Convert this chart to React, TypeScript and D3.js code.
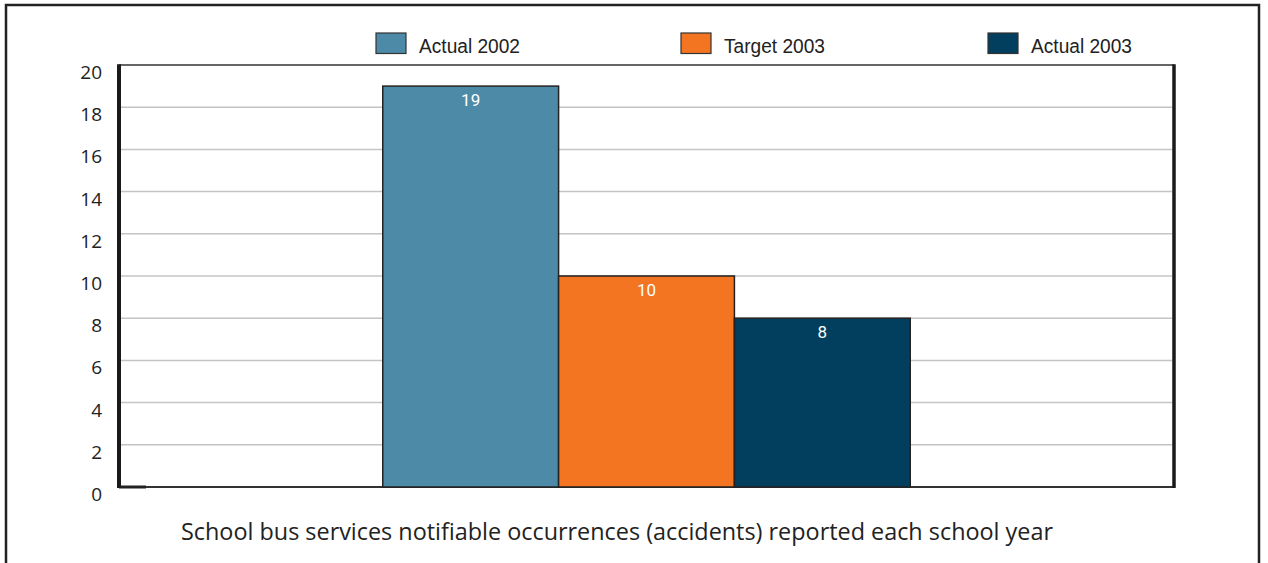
import React from "react";
import * as d3 from "d3";

const categories = ["School bus services"];
const seriesNames = ["Actual 2002", "Target 2003", "Actual 2003"];
const seriesValues = [19, 10, 8];
const seriesColors = ["#4d8aa8", "#f47521", "#023e5e"];
const yTicks = [0, 2, 4, 6, 8, 10, 12, 14, 16, 18, 20];
const title = "School bus services notifiable occurrences (accidents) reported each school year";

const W = 1268;
const H = 563;
const plot = { left: 119, right: 1174, top: 65, bottom: 487 };

export default function App() {
  const y = d3.scaleLinear().domain([0, 20]).range([plot.bottom, plot.top]);
  const x0 = d3
    .scaleBand<string>()
    .domain(categories)
    .range([plot.left, plot.right])
    .paddingInner(0)
    .paddingOuter(0.5);
  const x1 = d3
    .scaleBand<string>()
    .domain(seriesNames)
    .range([0, x0.bandwidth()])
    .padding(0);

  const legendX = [376, 681, 988];

  return (
    <svg
      width={W}
      height={H}
      style={{ position: "absolute", left: 0, top: 0, background: "#fff" }}
    >
      {/* outer frame, open at the bottom */}
      <path
        d={`M6,${H} L6,5 L1259,5 L1259,${H}`}
        fill="none"
        stroke="#222"
        strokeWidth={2.5}
      />

      {/* legend */}
      {seriesNames.map((name, i) => (
        <g key={name}>
          <rect
            x={legendX[i]}
            y={33}
            width={30}
            height={20.5}
            fill={seriesColors[i]}
            stroke="#333"
            strokeWidth={1.2}
          />
          <text
            x={legendX[i] + 43}
            y={52.5}
            fontFamily="'Liberation Sans', Arial, sans-serif"
            fontSize={20}
            fill="#222"
            textLength={101}
            lengthAdjust="spacingAndGlyphs"
          >
            {name}
          </text>
        </g>
      ))}

      {/* gridlines */}
      {yTicks
        .filter((t) => t > 0 && t < 20)
        .map((t) => (
          <line
            key={t}
            x1={plot.left}
            x2={plot.right - 2}
            y1={y(t)}
            y2={y(t)}
            stroke="#c4c4c4"
            strokeWidth={1.5}
          />
        ))}

      {/* plot frame */}
      <line x1={plot.left} x2={plot.right} y1={plot.top} y2={plot.top} stroke="#333" strokeWidth={1.6} />
      <line x1={plot.left} x2={plot.right} y1={plot.bottom} y2={plot.bottom} stroke="#333" strokeWidth={2} />
      <line x1={plot.left} x2={plot.left + 27} y1={plot.bottom} y2={plot.bottom} stroke="#222" strokeWidth={3} />

      {/* bars */}
      {categories.map((c) => (
        <g key={c} transform={`translate(${x0(c)},0)`}>
          {seriesNames.map((s, i) => {
            const v = seriesValues[i];
            const bx = x1(s)!;
            return (
              <g key={s}>
                <rect
                  x={bx}
                  y={y(v)}
                  width={x1.bandwidth()}
                  height={y(0) - y(v)}
                  fill={seriesColors[i]}
                  stroke="#222"
                  strokeWidth={1.5}
                />
                <text
                  x={bx + x1.bandwidth() / 2}
                  y={y(v) + 19.5}
                  textAnchor="middle"
                  fontFamily="Roboto, 'Open Sans', sans-serif"
                  fontSize={17}
                  fill="#fff"
                >
                  {v}
                </text>
              </g>
            );
          })}
        </g>
      ))}

      {/* thick side edges */}
      <line x1={plot.left} x2={plot.left} y1={plot.top - 0.8} y2={plot.bottom + 1} stroke="#1a1a1a" strokeWidth={4} />
      <line x1={plot.right} x2={plot.right} y1={plot.top - 0.8} y2={plot.bottom + 1} stroke="#1a1a1a" strokeWidth={3.5} />

      {/* y tick labels */}
      {yTicks.map((t) => (
        <text
          key={t}
          x={102}
          y={y(t) + 14}
          textAnchor="end"
          fontFamily="'Open Sans', 'Noto Sans', sans-serif"
          fontSize={19}
          fill="#222"
        >
          {t}
        </text>
      ))}

      {/* caption */}
      <text
        x={181}
        y={540}
        fontFamily="'Open Sans', 'Noto Sans', sans-serif"
        fontSize={24}
        fill="#222"
        textLength={872}
        lengthAdjust="spacingAndGlyphs"
      >
        {title}
      </text>
    </svg>
  );
}
